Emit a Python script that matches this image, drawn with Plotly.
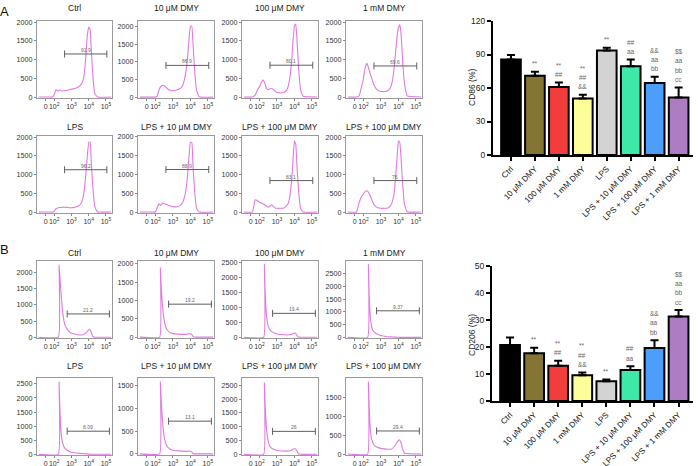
import plotly.graph_objects as go

W, H = 698, 466

# ---------------- data ----------------
HIST_A_X = [1.10, 1.60, 1.75, 1.90, 2.00, 2.10, 2.20, 2.30, 2.40, 2.50, 2.60, 2.70, 2.80, 2.90, 3.00,
            3.20, 3.40, 3.55, 3.65, 3.75, 3.85, 3.92, 4.00, 4.08, 4.15, 4.25, 4.35, 4.50, 5.30]
A_CTRL = [0, 0, 0, 0, 60, 200, 160, 190, 170, 160, 170, 175, 190, 200, 210, 230, 270, 330, 420, 650,
          1200, 1650, 1870, 1800, 1250, 500, 100, 0, 0]
A_10UM = [0, 0, 0, 0, 0, 30, 200, 300, 335, 320, 280, 230, 200, 185, 180, 200, 240, 320, 480, 750,
          1200, 1650, 2000, 2020, 1500, 700, 200, 10, 0]
A_100UM = [0, 0, 50, 200, 280, 380, 460, 380, 230, 200, 220, 235, 200, 150, 120, 110, 120, 180, 300, 550,
           1000, 1500, 1900, 1950, 1500, 700, 200, 20, 0]
A_1MM = [0, 0, 30, 300, 500, 800, 900, 760, 600, 460, 330, 240, 190, 160, 150, 150, 170, 260, 420, 750,
         1250, 1600, 1850, 1930, 1700, 900, 350, 30, 0]
A_LPS = [0, 0, 0, 0, 20, 90, 110, 120, 125, 130, 130, 125, 120, 115, 115, 130, 160, 230, 350, 620,
         1100, 1500, 1850, 1870, 1300, 600, 150, 10, 0]
A_LPS_10UM = [0, 0, 0, 0, 0, 120, 220, 170, 240, 230, 210, 190, 170, 155, 145, 140, 170, 250, 380, 600,
              1050, 1500, 1850, 1850, 1200, 500, 100, 0, 0]
A_LPS_100UM = [0, 0, 330, 300, 260, 240, 220, 195, 160, 130, 160, 195, 150, 110, 100, 100, 110, 170, 240, 450,
               900, 1400, 1900, 1800, 1200, 500, 100, 0, 0]
A_LPS_100UM_2 = [0, 0, 250, 430, 480, 550, 570, 520, 420, 300, 200, 150, 120, 110, 100, 100, 110, 170, 280, 480,
                 1000, 1450, 1900, 1850, 1450, 700, 200, 10, 0]

HIST_B_X = [1.10, 2.24, 2.28, 2.32, 2.37, 2.44, 2.52, 2.60, 2.70, 2.85, 3.00, 3.30, 3.60, 3.80, 3.95,
            4.05, 4.15, 4.22, 4.35, 5.30]
B_CTRL = [0, 0, 2240, 1900, 1550, 1050, 650, 420, 290, 180, 120, 85, 70, 110, 200, 240, 160, 30, 0, 0]
B_10UM = [0, 0, 1900, 1450, 1050, 650, 400, 260, 180, 120, 95, 80, 75, 80, 95, 85, 20, 0, 0, 0]
B_100UM = [0, 0, 2430, 1600, 950, 550, 340, 250, 190, 140, 110, 90, 75, 90, 130, 140, 60, 10, 0, 0]
B_1MM = [0, 0, 2850, 1800, 1000, 520, 300, 220, 160, 110, 70, 35, 20, 10, 5, 0, 0, 0, 0, 0]
B_LPS = [0, 0, 2570, 1750, 1000, 550, 330, 230, 170, 110, 70, 45, 30, 20, 10, 5, 0, 0, 0, 0]
B_LPS_10UM = [0, 0, 1590, 1250, 900, 550, 330, 220, 150, 100, 80, 65, 55, 55, 60, 55, 0, 0, 0, 0]
B_LPS_100UM = [0, 0, 2580, 1850, 1200, 700, 420, 280, 220, 170, 140, 120, 115, 140, 190, 200, 110, 20, 0, 0]
B_LPS_100UM_2 = [0, 0, 1900, 1350, 800, 450, 320, 240, 200, 170, 150, 130, 130, 220, 330, 380, 300, 160, 20, 0]

HIST_TITLES = ["Ctrl", "10 μM DMY", "100 μM DMY", "1 mM DMY",
               "LPS", "LPS + 10 μM DMY", "LPS + 100 μM DMY", "LPS + 100 μM DMY"]

GATE_A_X = [2.6, 5.05]
GATE_B_X = [2.75, 5.2]
GATE_A_Y = [1150, 900, 850, 830, 1130, 1130, 840, 840]
GATE_B_Y = [720, 900, 800, 1040, 820, 720, 830, 610]
GATE_A_LABEL = ["91.9", "86.9", "80.1", "69.6", "96.2", "88.9", "83.1", "76"]
GATE_B_LABEL = ["21.2", "19.2", "19.4", "9.37", "8.09", "13.1", "26", "29.4"]

HIST_X_TICKVALS = [1.5, 2, 3, 4, 5]
HIST_X_TICKTEXT = ["0", "10<sup>2</sup>", "10<sup>3</sup>", "10<sup>4</sup>", "10<sup>5</sup>"]
A_Y_TICKS = [0, 500, 1000, 1500, 2000]
B_Y_TICKS = [[0, 500, 1000, 1500, 2000], [0, 500, 1000, 1500, 2000],
             [0, 500, 1000, 1500, 2000, 2500], [0, 500, 1000, 1500, 2000, 2500],
             [0, 500, 1000, 1500, 2000, 2500], [0, 500, 1000, 1500],
             [0, 500, 1000, 1500, 2000, 2500], [0, 500, 1000, 1500]]
A_Y_TOP = [2030, 2160, 2030, 2030, 2030, 2020, 2030, 2030]
B_Y_TOP = [2360, 2080, 2550, 2990, 2710, 1670, 2760, 2010]

CATEGORIES = ["Ctrl", "10 μM DMY", "100 μM DMY", "1 mM DMY", "LPS",
              "LPS + 10 μM DMY", "LPS + 100 μM DMY", "LPS + 1 mM DMY"]
CD86_MEAN = [85.5, 71, 61, 50.5, 93.5, 79.5, 64.5, 51.5]
CD86_SD = [4, 3.5, 4, 3.5, 2.5, 6, 5.5, 9]
CD206_MEAN = [20.7, 17.7, 13.1, 9.5, 7.3, 11.5, 19.6, 31.3]
CD206_SD = [2.8, 2, 1.8, 1.1, 0.7, 1.4, 2.9, 2.4]
CD86_TICKS = [0, 30, 60, 90, 120]
CD206_TICKS = [0, 10, 20, 30, 40, 50]
SIG_A = [[], ["**"], ["**", "##"], ["**", "##", "&&"], ["**"], ["##", "aa"],
         ["&&", "aa", "bb"], ["$$", "aa", "bb", "cc"]]
SIG_B = [[], ["**"], ["**", "##"], ["**", "##", "&&"], ["**"], ["##", "aa"],
         ["&&", "aa", "bb"], ["$$", "aa", "bb", "cc"]]

# ---------------- styles ----------------
FONT = "Liberation Sans, Arial, Helvetica, sans-serif"
PINK = "#e07ae0"
GATE_COLOR = "#5f5f5f"
BOX_COLOR = "#9a9a9a"
BAR_COLORS = ["#000000", "#857535", "#f23d3d", "#fdfd9a", "#d3d3d3", "#3de8a8", "#4d9dfb", "#ad7cc3"]

COLS = [(37, 112), (138, 214), (242, 318), (346, 422)]
ROWS = [(21, 98), (136, 213), (261, 338), (378, 455)]
TITLE_Y = [8, 127, 253, 366]


def xdom(l, r):
    return [l / W, r / W]


def ydom(t, b):
    return [1 - b / H, 1 - t / H]


fig = go.Figure()
layout = {}
annotations = []

hist_y = [A_CTRL, A_10UM, A_100UM, A_1MM, A_LPS, A_LPS_10UM, A_LPS_100UM, A_LPS_100UM_2,
          B_CTRL, B_10UM, B_100UM, B_1MM, B_LPS, B_LPS_10UM, B_LPS_100UM, B_LPS_100UM_2]

for k in range(16):
    n = k + 1
    row, col = k // 4, k % 4
    xa = "x" if n == 1 else f"x{n}"
    ya = "y" if n == 1 else f"y{n}"
    xk = "xaxis" if n == 1 else f"xaxis{n}"
    yk = "yaxis" if n == 1 else f"yaxis{n}"
    panel_a = k < 8
    j = k % 8
    hx = HIST_A_X if panel_a else HIST_B_X
    gx = GATE_A_X if panel_a else GATE_B_X
    gy = (GATE_A_Y if panel_a else GATE_B_Y)[j]
    glab = (GATE_A_LABEL if panel_a else GATE_B_LABEL)[j]
    ytop = (A_Y_TOP if panel_a else B_Y_TOP)[j]
    yt = A_Y_TICKS if panel_a else B_Y_TICKS[j]

    fig.add_trace(go.Scatter(x=hx, y=hist_y[k], xaxis=xa, yaxis=ya, mode="lines",
                             line=dict(color=PINK, width=1.1, shape="spline", smoothing=0.3),
                             hoverinfo="skip", showlegend=False))
    fig.add_trace(go.Scatter(x=gx, y=[gy, gy], xaxis=xa, yaxis=ya, mode="lines+markers",
                             line=dict(color=GATE_COLOR, width=1),
                             marker=dict(symbol="line-ns-open", size=5,
                                         line=dict(width=1, color=GATE_COLOR)),
                             hoverinfo="skip", showlegend=False))
    annotations.append(dict(x=(gx[0] + gx[1]) / 2, y=gy, xref=xa, yref=ya, text=glab,
                            showarrow=False, yshift=4, font=dict(size=5, color="#666", family=FONT)))

    l, r = COLS[col]
    t, b = ROWS[row]
    layout[xk] = dict(domain=xdom(l, r), anchor=ya, range=[1.0, 5.35],
                      tickvals=HIST_X_TICKVALS, ticktext=HIST_X_TICKTEXT, tickangle=0,
                      tickfont=dict(size=7, color="#333", family=FONT), automargin=False,
                      showline=True, mirror=True, linecolor=BOX_COLOR, linewidth=1,
                      ticks="outside", ticklen=2, tickcolor="#888", tickwidth=1,
                      showgrid=False, zeroline=False, fixedrange=True)
    layout[yk] = dict(domain=ydom(t, b), anchor=xa, range=[-25, ytop], tickvals=yt, tickangle=0,
                      tickfont=dict(size=7.2, color="#333", family=FONT), automargin=False,
                      showline=True, mirror=True, linecolor=BOX_COLOR, linewidth=1,
                      ticks="outside", ticklen=2, tickcolor="#888", tickwidth=1,
                      showgrid=False, zeroline=False, fixedrange=True)
    annotations.append(dict(x=(l + r) / 2 / W, y=1 - TITLE_Y[row] / H, xref="paper", yref="paper",
                            text=HIST_TITLES[j], showarrow=False, xanchor="center", yanchor="middle",
                            font=dict(size=8.5, color="#222", family=FONT)))

# ---------------- bar charts ----------------
bar_specs = [
    (17, CD86_MEAN, CD86_SD, SIG_A, CD86_TICKS, [0, 120], (493, 693), (21, 155), "CD86 (%)", 88),
    (18, CD206_MEAN, CD206_SD, SIG_B, CD206_TICKS, [0, 50], (492, 693), (266, 401), "CD206 (%)", 335),
]
for n, mean, sd, sig, ticks, yr, (l, r), (t, b), ytitle, ty in bar_specs:
    xa, ya = f"x{n}", f"y{n}"
    fig.add_trace(go.Bar(x=CATEGORIES, y=mean, xaxis=xa, yaxis=ya, width=0.82,
                         marker=dict(color=BAR_COLORS, line=dict(color="black", width=2)),
                         error_y=dict(type="data", array=sd, arrayminus=[0] * len(sd), symmetric=False,
                                      color="black", thickness=2, width=4),
                         hoverinfo="skip", showlegend=False))
    layout[f"xaxis{n}"] = dict(domain=xdom(l, r), anchor=ya, type="category", range=[-0.75, 7.6],
                               showline=True, linecolor="black", linewidth=2, automargin=False,
                               ticks="outside", ticklen=4, tickwidth=1.5, tickcolor="black",
                               tickangle=-45, tickfont=dict(size=8.2, color="#111", family=FONT),
                               showgrid=False, zeroline=False, fixedrange=True)
    layout[f"yaxis{n}"] = dict(domain=ydom(t, b), anchor=xa, range=yr, tickvals=ticks,
                               showline=True, linecolor="black", linewidth=2, automargin=False,
                               ticks="outside", ticklen=4, tickwidth=2, tickcolor="black",
                               tickfont=dict(size=8.5, color="#222", family=FONT),
                               showgrid=False, zeroline=False, fixedrange=True)
    for i, labs in enumerate(sig):
        for kk, lab in enumerate(reversed(labs)):
            annotations.append(dict(x=CATEGORIES[i], y=mean[i] + sd[i], xref=xa, yref=ya, text=lab,
                                    showarrow=False, yshift=8 + 9.3 * kk, yanchor="middle",
                                    font=dict(size=6.5, color="#666", family=FONT)))
    annotations.append(dict(x=472 / W, y=1 - ty / H, xref="paper", yref="paper", text=ytitle,
                            textangle=-90, showarrow=False, xanchor="center", yanchor="middle",
                            font=dict(size=8.5, color="#222", family=FONT)))

annotations.append(dict(x=4 / W, y=1 - 12 / H, xref="paper", yref="paper", text="A", showarrow=False,
                        xanchor="center", yanchor="middle", font=dict(size=13, color="#111", family=FONT)))
annotations.append(dict(x=4 / W, y=1 - 250 / H, xref="paper", yref="paper", text="B", showarrow=False,
                        xanchor="center", yanchor="middle", font=dict(size=13, color="#111", family=FONT)))

fig.update_layout(width=W, height=H, margin=dict(l=0, r=0, t=0, b=0, autoexpand=False),
                  paper_bgcolor="white", plot_bgcolor="white",
                  font=dict(family=FONT), annotations=annotations, **layout)

fig.write_html("out.html", config={"displayModeBar": False},
               post_script="document.body.style.margin='0';document.body.style.overflow='hidden';")
